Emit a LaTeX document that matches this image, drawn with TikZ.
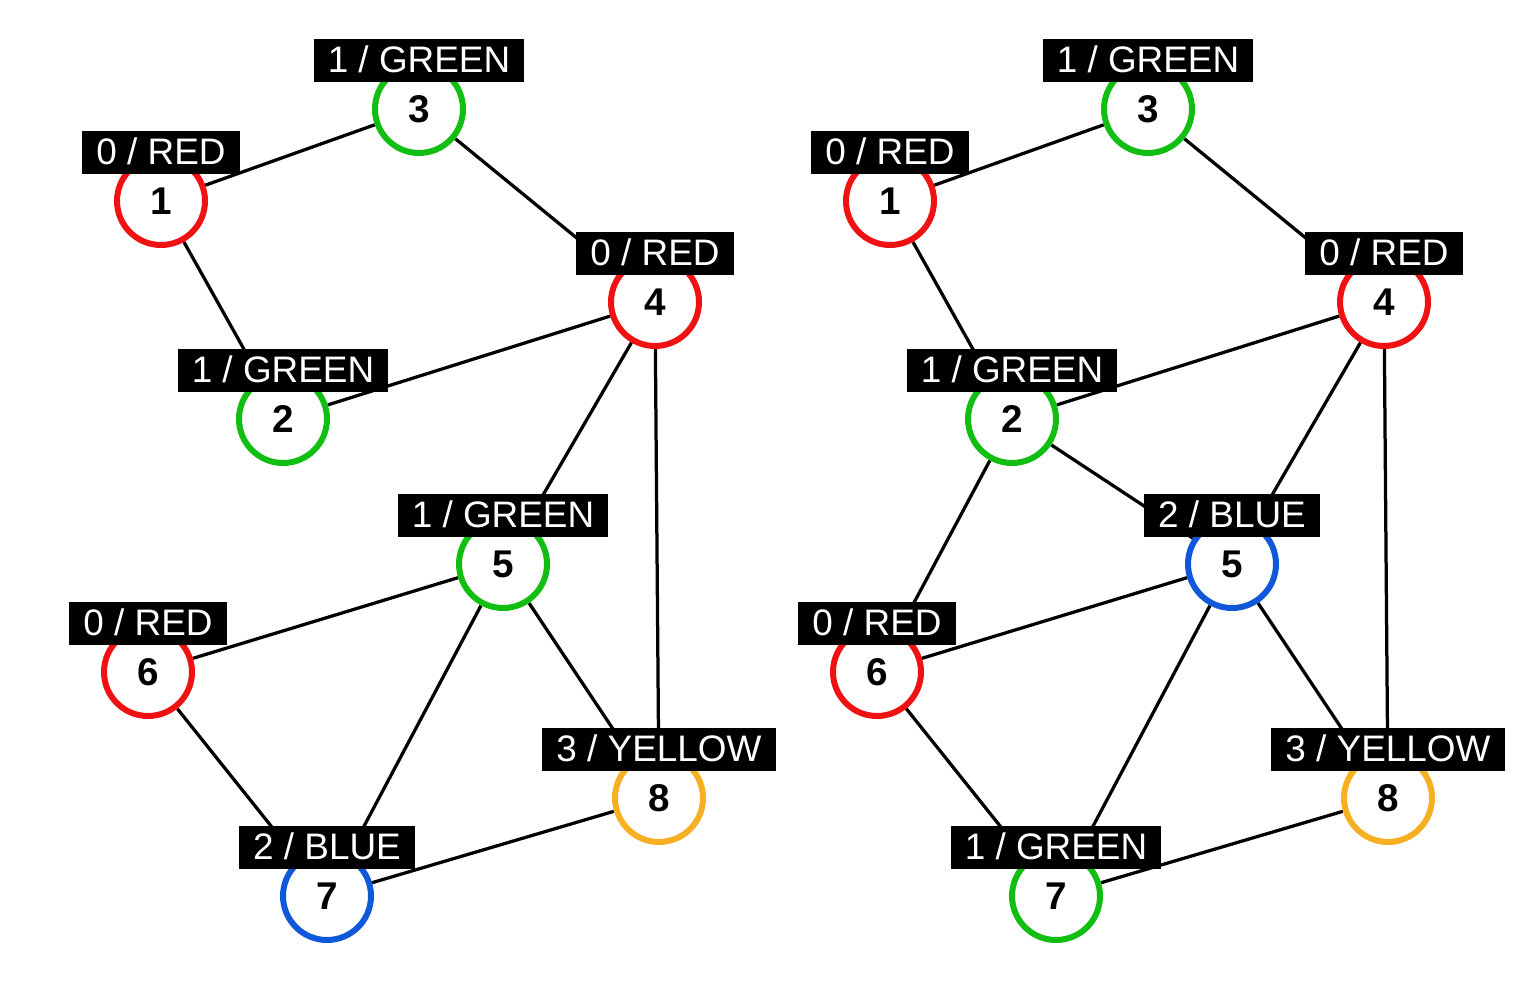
\documentclass[tikz,border=0pt]{standalone}
\usepackage{fontspec}
\setmainfont{Liberation Sans}
\usetikzlibrary{backgrounds}
\definecolor{cred}{RGB}{240,18,18}
\definecolor{cgreen}{RGB}{18,190,18}
\definecolor{cblue}{RGB}{16,88,218}
\definecolor{cyellow}{RGB}{247,176,36}
\tikzset{
  vtx/.style={circle,draw=#1,line width=0.12cm,fill=white,minimum size=1.76cm,inner sep=0pt,
    font=\fontsize{22}{22}\selectfont\bfseries},
  tag/.style={fill=black,text=white,inner xsep=0.28cm,inner ysep=0.175cm,text height=0.5cm,text depth=0pt,
    font=\fontsize{21}{21}\selectfont,label distance=-0.40cm},
  link/.style={line width=0.065cm}
}
\begin{document}
\begin{tikzpicture}[x=0.02cm,y=-0.02cm]
  \useasboundingbox (0,0) rectangle (1537,983);
  % left graph
  \node[vtx=cred,label={[tag]above:0 / RED}] (l1) at (161,201) {1};
  \node[vtx=cgreen,label={[tag]above:1 / GREEN}] (l3) at (419,109) {3};
  \node[vtx=cred,label={[tag]above:0 / RED}] (l4) at (655,302) {4};
  \node[vtx=cgreen,label={[tag]above:1 / GREEN}] (l2) at (283,419) {2};
  \node[vtx=cgreen,label={[tag]above:1 / GREEN}] (l5) at (503,564) {5};
  \node[vtx=cred,label={[tag]above:0 / RED}] (l6) at (148,672) {6};
  \node[vtx=cyellow,label={[tag]above:3 / YELLOW}] (l8) at (659,798) {8};
  \node[vtx=cblue,label={[tag]above:2 / BLUE}] (l7) at (327,896) {7};
  % right graph
  \node[vtx=cred,label={[tag]above:0 / RED}] (r1) at (890,201) {1};
  \node[vtx=cgreen,label={[tag]above:1 / GREEN}] (r3) at (1148,109) {3};
  \node[vtx=cred,label={[tag]above:0 / RED}] (r4) at (1384,302) {4};
  \node[vtx=cgreen,label={[tag]above:1 / GREEN}] (r2) at (1012,419) {2};
  \node[vtx=cblue,label={[tag]above:2 / BLUE}] (r5) at (1232,564) {5};
  \node[vtx=cred,label={[tag]above:0 / RED}] (r6) at (877,672) {6};
  \node[vtx=cyellow,label={[tag]above:3 / YELLOW}] (r8) at (1388,798) {8};
  \node[vtx=cgreen,label={[tag]above:1 / GREEN}] (r7) at (1056,896) {7};
  \begin{pgfonlayer}{background}
    \draw[link](l1)--(l3);
    \draw[link](l1)--(l2);
    \draw[link](l3)--(l4);
    \draw[link](l2)--(l4);
    \draw[link](l4)--(l5);
    \draw[link](l4)--(l8);
    \draw[link](l5)--(l6);
    \draw[link](l5)--(l7);
    \draw[link](l5)--(l8);
    \draw[link](l6)--(l7);
    \draw[link](l7)--(l8);
    \draw[link](r1)--(r3);
    \draw[link](r1)--(r2);
    \draw[link](r3)--(r4);
    \draw[link](r2)--(r4);
    \draw[link](r2)--(r5);
    \draw[link](r2)--(r6);
    \draw[link](r4)--(r5);
    \draw[link](r4)--(r8);
    \draw[link](r5)--(r6);
    \draw[link](r5)--(r7);
    \draw[link](r5)--(r8);
    \draw[link](r6)--(r7);
    \draw[link](r7)--(r8);
  \end{pgfonlayer}
\end{tikzpicture}
\end{document}
